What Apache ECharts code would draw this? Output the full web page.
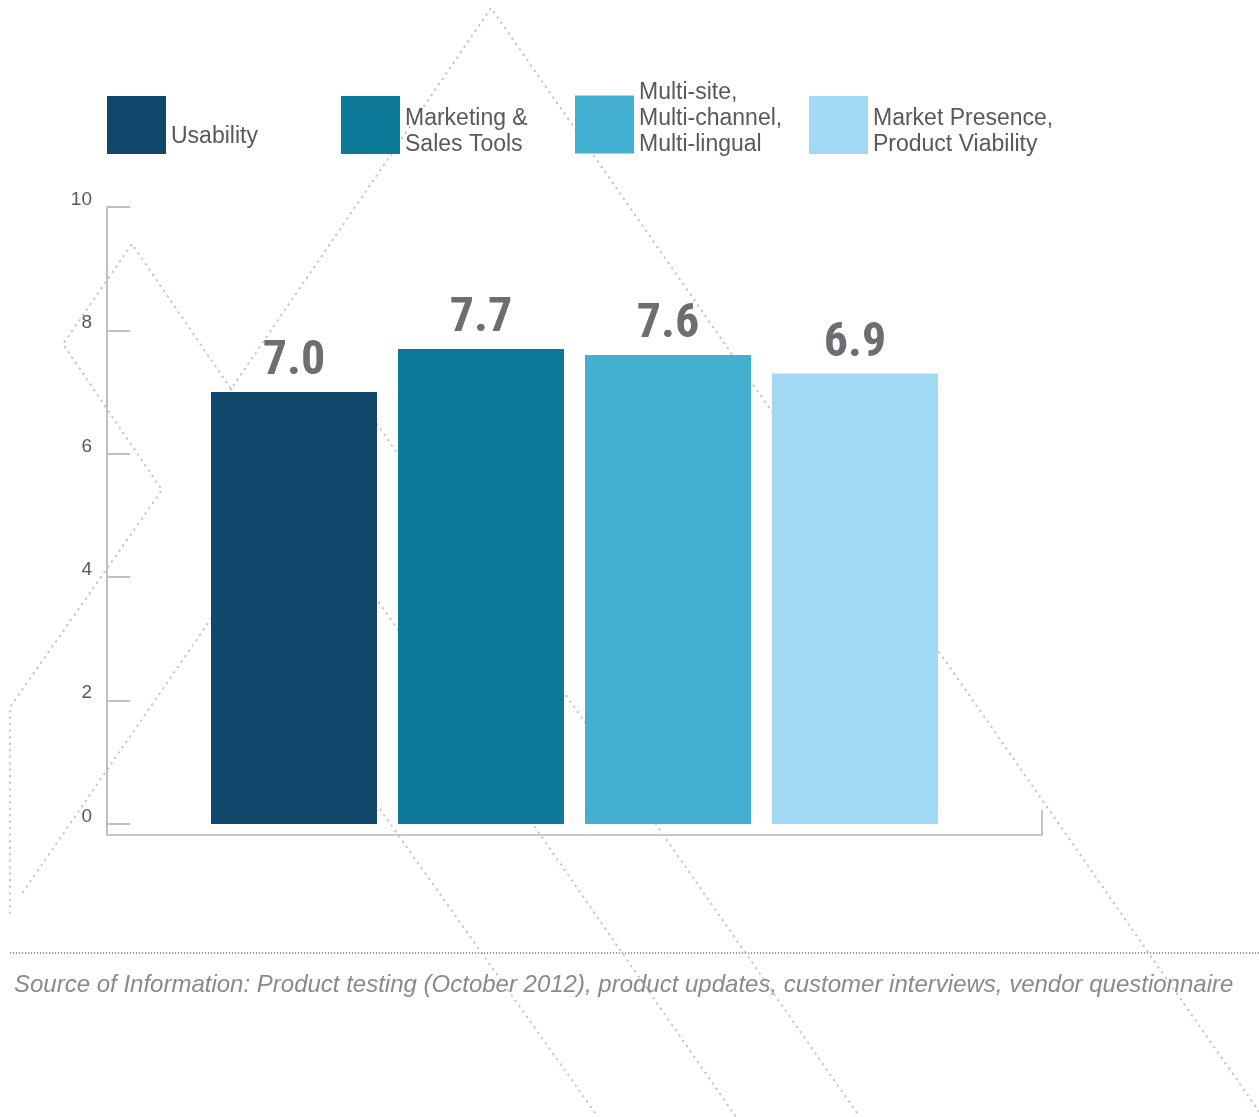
<!DOCTYPE html>
<html>
<head>
<meta charset="utf-8">
<script src="https://cdn.jsdelivr.net/npm/echarts@6/dist/echarts.min.js"></script>
<style>
html,body{margin:0;padding:0;background:#fff;}
#chart{width:1259px;height:1117px;}
</style>
</head>
<body>
<div id="chart"></div>
<script>
// ---- data ----
var seriesNames = ['Usability', 'Marketing & Sales Tools', 'Multi-site, Multi-channel, Multi-lingual', 'Market Presence, Product Viability'];
var legendLines = [['Usability'], ['Marketing &', 'Sales Tools'], ['Multi-site,', 'Multi-channel,', 'Multi-lingual'], ['Market Presence,', 'Product Viability']];
var barValues = [7.0, 7.7, 7.6, 7.3];          // bar heights as drawn
var valueLabels = ['7.0', '7.7', '7.6', '6.9']; // labels printed above bars
var yTicks = [0, 2, 4, 6, 8, 10];
var sourceText = 'Source of Information: Product testing (October 2012), product updates, customer interviews, vendor questionnaire';

// ---- styles ----
var barColors = ['#12476c', '#0d7a99', '#43b0d1', '#a1d8f3'];
var legendLefts = [107, 341, 575, 809];
var legendTops = [96, 96, 81, 96];
// spacer line heights (before / after) to bottom-align the legend text with its swatch
var legendSpacers = [[24, 0], [14, 0], [0, 12], [14, 0]];
var decorLines = [
  [[10, 913], [10, 707], [162, 490], [63, 344], [132, 244], [231, 389], [491, 8], [1260, 1113]],
  [[231, 389], [736, 1117]],
  [[23, 892], [361, 401], [857, 1113]],
  [[260, 640], [598, 1117]]
];

var chart = echarts.init(document.getElementById('chart'));

function legendText(i) {
  var parts = [];
  if (legendSpacers[i][0]) parts.push('{pre| }');
  legendLines[i].forEach(function (l) { parts.push('{t|' + l + '}'); });
  if (legendSpacers[i][1]) parts.push('{post| }');
  return parts.join('\n');
}

var legends = seriesNames.map(function (n, i) {
  return {
    left: legendLefts[i],
    top: legendTops[i],
    padding: 0,
    orient: 'horizontal',
    selectedMode: false,
    itemWidth: 59,
    itemHeight: 58,
    icon: 'rect',
    formatter: function () { return legendText(i); },
    data: [n],
    textStyle: {
      fontFamily: "'Liberation Sans', Arial, sans-serif",
      fontSize: 23,
      color: '#58595b',
      rich: {
        t: { fontFamily: "'Liberation Sans', Arial, sans-serif", fontSize: 23, lineHeight: 26, color: '#58595b' },
        pre: { fontSize: 4, lineHeight: legendSpacers[i][0] || 1 },
        post: { fontSize: 4, lineHeight: legendSpacers[i][1] || 1 }
      }
    }
  };
});

var series = seriesNames.map(function (n, i) {
  return {
    name: n,
    type: 'bar',
    barWidth: 166,
    barGap: '12.65%',
    data: [barValues[i]],
    itemStyle: { color: barColors[i] },
    label: {
      show: true,
      position: 'top',
      distance: 6,
      formatter: function () { return valueLabels[i]; },
      fontFamily: "'Roboto Condensed', Roboto, sans-serif",
      fontWeight: 'bold',
      fontSize: 48,
      color: '#6d6e71'
    },
    z: 5
  };
});

var graphics = decorLines.map(function (pts) {
  return {
    type: 'polyline',
    z: 0,
    silent: true,
    shape: { points: pts },
    style: { fill: null, stroke: '#c2c2c6', lineWidth: 2, lineDash: [0.5, 6], lineCap: 'round' }
  };
});
graphics.push({
  type: 'line',
  z: 0,
  silent: true,
  shape: { x1: 10, y1: 953, x2: 1259, y2: 953 },
  style: { stroke: '#9a9a9c', lineWidth: 2, lineDash: [1.2, 1.8] }
});
graphics.push({
  type: 'text',
  left: 14,
  top: 973,
  style: {
    text: sourceText,
    fontFamily: "'Liberation Sans', Arial, sans-serif",
    fontStyle: 'italic',
    fontSize: 24,
    fill: '#8a8a8d'
  }
});

chart.setOption({
  animation: false,
  backgroundColor: '#ffffff',
  legend: legends,
  grid: { left: 107, right: 217, top: 207, bottom: 293, containLabel: false },
  xAxis: {
    type: 'category',
    data: [''],
    offset: 11,
    axisLine: { show: true, onZero: false, lineStyle: { color: '#c6c7ca', width: 2 } },
    axisTick: { show: true, inside: true, length: 25, lineStyle: { color: '#c0c1c4', width: 2 } },
    axisLabel: { show: false },
    splitLine: { show: false }
  },
  yAxis: {
    type: 'value',
    min: yTicks[0],
    max: yTicks[yTicks.length - 1],
    interval: yTicks[1] - yTicks[0],
    axisLine: { show: true, lineStyle: { color: '#bfc0c4', width: 2 } },
    axisTick: { show: true, inside: true, length: 23, lineStyle: { color: '#bfc0c4', width: 2 } },
    splitLine: { show: false },
    axisLabel: {
      margin: 15,
      fontFamily: "'Liberation Sans', Arial, sans-serif",
      fontSize: 19,
      lineHeight: 15,
      verticalAlign: 'bottom',
      color: '#58595b'
    }
  },
  graphic: graphics,
  series: series
});
</script>
</body>
</html>
